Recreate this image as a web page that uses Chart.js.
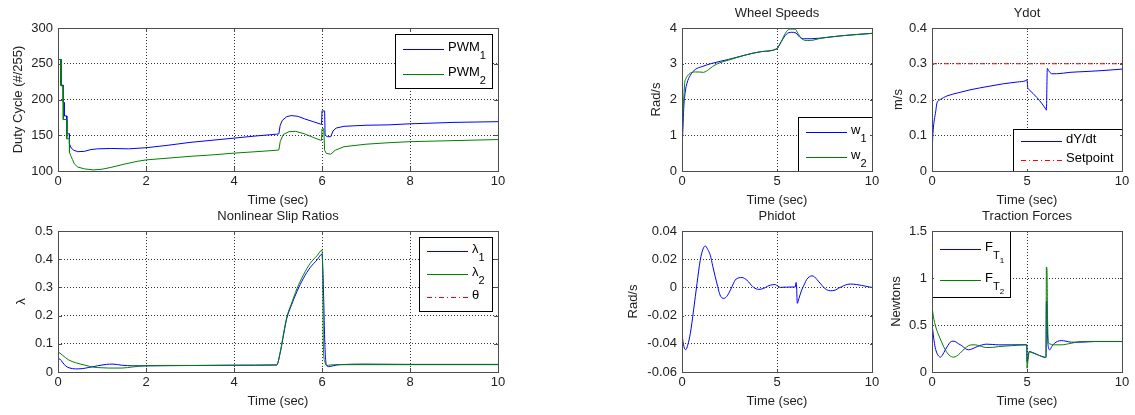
<!DOCTYPE html>
<html>
<head>
<meta charset="utf-8">
<script src="https://cdn.jsdelivr.net/npm/chart.js@4.4.1/dist/chart.umd.min.js"></script>
<style>
  html, body { margin: 0; padding: 0; background: #fff; }
  body { width: 1135px; height: 415px; position: relative; overflow: hidden; }
  canvas { position: absolute; }
</style>
</head>
<body>
<canvas id="pwm"></canvas>
<canvas id="slip"></canvas>
<canvas id="wheel"></canvas>
<canvas id="ydot"></canvas>
<canvas id="phidot"></canvas>
<canvas id="traction"></canvas>
<script>
// ---- data ----
var leftXTicks = [0, 2, 4, 6, 8, 10];
var rightXTicks = [0, 5, 10];

var pwmTicks = [100, 150, 200, 250, 300];
var pwmLabels = ['PWM_1', 'PWM_2'];
var pwmTime1 = [0, 0.07, 0.07, 0.12, 0.12, 0.14, 0.14, 0.2, 0.2, 0.26, 0.26, 0.3, 0.36, 0.45, 0.6, 0.75, 0.9, 1.2, 1.6, 2.0,
  2.5, 3.0, 3.5, 4.0, 4.5, 4.97, 5.02, 5.05, 5.1, 5.2, 5.3, 5.45, 5.6, 5.8, 5.97, 5.99, 6.0, 6.06, 6.07, 6.12,
  6.2, 6.25, 6.32, 6.5, 7.0, 7.5, 8.0, 8.5, 9.0, 9.5, 10];
var pwm1 = [256, 256, 220, 220, 196, 196, 177, 177, 152, 152, 138, 132, 129, 127, 127.5, 130, 131, 131.5, 131, 132.5,
  136, 140, 143, 146, 149, 151.5, 152, 164, 171, 176, 177.5, 176.5, 173, 169, 165.5, 165, 184, 184, 150, 148,
  148, 156, 160, 162.5, 164, 164.5, 166, 167, 168, 168.5, 169];
var pwmTime2 = [0, 0.07, 0.07, 0.12, 0.12, 0.2, 0.2, 0.26, 0.26, 0.3, 0.33, 0.37, 0.45, 0.6, 0.8, 1.0, 1.2, 1.5, 1.8, 2.0,
  2.5, 3.0, 3.5, 4.0, 4.5, 4.97, 5.02, 5.05, 5.12, 5.25, 5.4, 5.6, 5.8, 5.97, 5.99, 6.0, 6.04, 6.06, 6.1, 6.2,
  6.3, 6.5, 7.0, 7.5, 8.0, 9.0, 10];
var pwm2 = [256, 256, 219, 219, 172, 172, 145, 145, 126, 120, 116, 110, 105.5, 103, 101.5, 102.5, 105, 109.5, 113.5, 115.5,
  118, 120.5, 122.5, 125, 127, 129, 129.5, 141, 151, 155, 155.5, 152, 147, 143, 143, 159, 159, 129, 124.5, 123.5,
  129, 134, 137.5, 139.5, 141, 142.5, 144];

var slipTicks = [0, 0.1, 0.2, 0.3, 0.4, 0.5];
var slipLabels = ['\u03bb_1', '\u03bb_2', '\u03b8'];
var slipTime1 = [0, 0.05, 0.1, 0.17, 0.25, 0.4, 0.55, 0.7, 0.9, 1.1, 1.25, 1.45, 1.7, 2.0, 3.0, 4.0, 4.97, 5.05, 5.13, 5.2,
  5.3, 5.43, 5.58, 5.73, 5.89, 6.0, 6.02, 6.04, 6.06, 6.08, 6.1, 6.15, 6.25, 6.4, 7.0, 8.0, 10];
var slip1 = [0.047, 0.045, 0.035, 0.022, 0.015, 0.011, 0.012, 0.016, 0.022, 0.027, 0.028, 0.024, 0.022, 0.022, 0.023, 0.024, 0.025, 0.068, 0.135, 0.19,
  0.235, 0.285, 0.333, 0.37, 0.398, 0.418, 0.36, 0.25, 0.12, 0.05, 0.025, 0.019, 0.022, 0.026, 0.028, 0.027, 0.027];
var slipTime2 = [0, 0.1, 0.24, 0.4, 0.62, 0.81, 1.0, 1.15, 1.45, 1.7, 2.0, 3.0, 4.0, 4.97, 5.05, 5.13, 5.2, 5.3, 5.43, 5.58,
  5.73, 5.89, 6.0, 6.02, 6.03, 6.06, 6.1, 6.2, 6.4, 10];
var slip2 = [0.072, 0.06, 0.043, 0.033, 0.024, 0.017, 0.015, 0.014, 0.014, 0.018, 0.022, 0.023, 0.024, 0.025, 0.07, 0.14, 0.195, 0.24, 0.295, 0.345,
  0.385, 0.413, 0.432, 0.3, 0.1, 0.04, 0.023, 0.025, 0.026, 0.026];
var thetaTime = [];   // in the legend only, no visible line
var theta = [];

var wheelTicks = [0, 1, 2, 3, 4];
var wheelLabels = ['w_1', 'w_2'];
var wheelTime1 = [0, 0.05, 0.09, 0.17, 0.26, 0.44, 0.7, 1.05, 1.57, 2.44, 3.31, 4.18, 5.0, 5.1, 5.23, 5.5, 5.75, 6.0, 6.1, 6.2,
  6.45, 6.8, 7.67, 8.55, 10];
var w1 = [0.6, 1.2, 1.74, 2.21, 2.45, 2.68, 2.84, 2.92, 3.01, 3.12, 3.24, 3.34, 3.42, 3.5, 3.62, 3.83, 3.88, 3.86, 3.8, 3.74,
  3.7, 3.7, 3.74, 3.79, 3.85];
var wheelTime2 = [0, 0.05, 0.1, 0.14, 0.2, 0.26, 0.44, 0.7, 0.9, 1.13, 1.3, 1.48, 1.75, 2.0, 2.44, 3.31, 4.18, 5.0, 5.1, 5.23,
  5.5, 5.7, 5.95, 6.1, 6.3, 6.6, 6.9, 7.2, 7.67, 8.55, 10];
var w2 = [0.6, 1.6, 2.1, 2.45, 2.58, 2.64, 2.74, 2.77, 2.77, 2.76, 2.8, 2.87, 2.97, 3.03, 3.1, 3.24, 3.34, 3.42, 3.5, 3.63,
  3.9, 3.97, 3.97, 3.85, 3.7, 3.65, 3.66, 3.7, 3.74, 3.79, 3.85];

var ydotTicks = [0, 0.1, 0.2, 0.3, 0.4];
var ydotLabels = ['dY/dt', 'Setpoint'];
var ydotTime = [0, 0.05, 0.1, 0.18, 0.26, 0.35, 0.44, 0.6, 0.79, 1.4, 2.0, 3.0, 3.75, 4.5, 4.9, 5.0, 5.04, 5.1, 5.53, 6.0,
  6.02, 6.07, 6.15, 6.3, 6.56, 7.26, 8.0, 9.0, 10];
var ydot = [0.047, 0.105, 0.135, 0.161, 0.19, 0.197, 0.2, 0.205, 0.21, 0.219, 0.227, 0.237, 0.244, 0.249, 0.252, 0.255, 0.233, 0.228, 0.205, 0.172,
  0.17, 0.287, 0.28, 0.272, 0.272, 0.276, 0.278, 0.281, 0.285];
var setTime = [0, 10];
var setpoint = [0.3, 0.3];

var phiTicks = [-0.06, -0.04, -0.02, 0, 0.02, 0.04];
var phiTime = [0, 0.1, 0.2, 0.3, 0.44, 0.61, 0.79, 0.96, 1.1, 1.23, 1.35, 1.49, 1.62, 1.75, 1.88, 2.0, 2.2, 2.35, 2.46, 2.63,
  2.8, 3.0, 3.16, 3.35, 3.5, 3.65, 3.77, 3.9, 4.04, 4.3, 4.5, 4.65, 4.9, 5.05, 5.17, 5.5, 5.96, 6.0, 6.02, 6.07,
  6.15, 6.3, 6.45, 6.56, 6.7, 6.84, 6.97, 7.1, 7.3, 7.46, 7.6, 7.8, 8.07, 8.25, 8.4, 8.6, 8.85, 9.2, 9.45, 9.65,
  9.85, 10];
var phidot = [-0.0336, -0.042, -0.0442, -0.041, -0.0325, -0.016, 0.0028, 0.0193, 0.027, 0.0294, 0.027, 0.0228, 0.015, 0.0075, 0.0005, -0.0054, -0.0078, -0.0065, -0.0042, 0.0005,
  0.0052, 0.0068, 0.007, 0.0058, 0.004, 0.0015, 0, -0.001, -0.0014, -0.0007, 0.0008, 0.0016, 0.002, 0.0008, 0, 0.0002, 0.0003, 0.0035, 0.003, -0.0113,
  -0.008, -0.0019, 0.0025, 0.0056, 0.0075, 0.0082, 0.0075, 0.0056, 0.0025, 0, -0.0015, -0.0024, -0.0019, -0.0005, 0.0005, 0.0017, 0.0024, 0.002, 0.0014, 0.0009,
  0.0003, 0];

var ftTicks = [0, 0.5, 1, 1.5];
var ftLabels = ['F_{T_1}', 'F_{T_2}'];
var ftTime1 = [0, 0.05, 0.09, 0.17, 0.26, 0.35, 0.44, 0.55, 0.7, 0.83, 0.96, 1.1, 1.22, 1.4, 1.57, 1.75, 1.92, 2.1, 2.27, 2.5,
  2.88, 3.2, 3.5, 4.2, 4.97, 4.99, 5.0, 5.05, 5.12, 5.2, 5.38, 5.6, 5.9, 5.97, 6.0, 6.02, 6.05, 6.08, 6.12, 6.2,
  6.3, 6.45, 6.6, 6.8, 7.05, 7.33, 7.85, 8.55, 10];
var ft1 = [0.5, 0.43, 0.36, 0.26, 0.2, 0.17, 0.158, 0.18, 0.236, 0.28, 0.317, 0.328, 0.324, 0.3, 0.28, 0.25, 0.236, 0.245, 0.26, 0.28,
  0.296, 0.293, 0.289, 0.289, 0.29, 0.29, 0.11, 0.15, 0.218, 0.215, 0.2, 0.18, 0.158, 0.155, 0.155, 0.75, 0.7, 0.4, 0.27, 0.236,
  0.27, 0.306, 0.325, 0.334, 0.328, 0.317, 0.317, 0.324, 0.324];
var ftTime2 = [0, 0.05, 0.1, 0.17, 0.26, 0.35, 0.5, 0.7, 0.9, 1.13, 1.3, 1.48, 1.7, 1.92, 2.1, 2.27, 2.5, 2.88, 3.2, 3.5,
  4.2, 4.97, 4.99, 5.0, 5.03, 5.08, 5.12, 5.2, 5.38, 5.6, 5.97, 6.0, 6.02, 6.05, 6.08, 6.12, 6.2, 6.36, 6.8, 7.33,
  7.85, 8.55, 10];
var ft2 = [0.71, 0.62, 0.56, 0.5, 0.44, 0.394, 0.32, 0.236, 0.18, 0.158, 0.17, 0.2, 0.245, 0.28, 0.289, 0.289, 0.278, 0.26, 0.262, 0.27,
  0.28, 0.289, 0.289, 0.04, 0.08, 0.18, 0.218, 0.21, 0.197, 0.18, 0.155, 0.16, 1.116, 1.1, 0.6, 0.324, 0.3, 0.289, 0.289, 0.306,
  0.324, 0.324, 0.324];

// ---- look ----
var FONT = '"Liberation Sans", Arial, Helvetica, sans-serif';
var TXT = '#222';
var BLUE = 'rgb(0,0,255)', GREEN = 'rgb(0,128,0)', RED = 'rgb(255,0,0)';
var DASHDOT = [5, 3, 1, 3];
var PAD_L = 62, PAD_R = 18, PAD_T = 30, PAD_B = 44;

function pts(t, y) {
    return t.map(function (v, i) { return { x: v, y: y[i] }; });
}

function fmt(v) {
    return String(parseFloat(Number(v).toFixed(6)));
}

// split "F_{T_1}" into runs with a subscript level
function parseTex(s, lvl, out) {
    var buf = '', i = 0;
    while (i < s.length) {
        var c = s[i];
        if (c === '_') {
            if (buf) { out.push({ t: buf, l: lvl }); buf = ''; }
            i++;
            if (s[i] === '{') {
                var depth = 1, j = i + 1;
                while (depth > 0 && j < s.length) {
                    if (s[j] === '{') depth++;
                    else if (s[j] === '}') depth--;
                    j++;
                }
                parseTex(s.slice(i + 1, j - 1), lvl + 1, out);
                i = j;
            } else {
                out.push({ t: s[i], l: lvl + 1 });
                i++;
            }
        } else {
            buf += c;
            i++;
        }
    }
    if (buf) out.push({ t: buf, l: lvl });
    return out;
}

var SUB_SIZE = [13, 11, 8];
var SUB_DY = [0, 8.5, 13];

// sample line drawn as filled 1px segments, following the dash pattern
function sampleLine(ctx, x0, x1, y, color, dash) {
    ctx.fillStyle = color;
    if (!dash || !dash.length) {
        ctx.fillRect(x0, y, x1 - x0, 1);
        return;
    }
    var x = x0, k = 0, on = true;
    while (x < x1) {
        var len = Math.min(dash[k % dash.length], x1 - x);
        if (on) ctx.fillRect(x, y, len, 1);
        x += dash[k % dash.length];
        k++;
        on = !on;
    }
}

// matlab-style box legend inside the axes (entries are kept on the chart object)
Chart.register({
    id: 'matLegend',
    afterDatasetsDraw: function (chart) {
        var box = chart.$legendBox;
        if (!box) return;
        var ca = chart.chartArea, ctx = chart.ctx;
        var x0 = (box.corner.indexOf('e') >= 0) ? ca.right - box.gap - box.w : ca.left + box.gap;
        var y0 = (box.corner.indexOf('s') >= 0) ? ca.bottom - box.gap - box.h : ca.top + box.gap;
        x0 = Math.round(x0); y0 = Math.round(y0);
        var items = chart.$legendItems;
        ctx.save();
        ctx.setLineDash([]);
        ctx.fillStyle = '#fff';
        ctx.fillRect(x0, y0, box.w, box.h);
        ctx.lineWidth = 1;
        ctx.strokeStyle = '#000';
        ctx.strokeRect(x0 + 0.5, y0 + 0.5, box.w, box.h);
        var rowH = (box.h - 4) / items.length;
        items.forEach(function (it, i) {
            var cy = Math.round(y0 + 2 + rowH * (i + 0.5));
            sampleLine(ctx, x0 + 8, x0 + 49, cy, it.color, it.dash);
            var tx = x0 + 53;
            ctx.fillStyle = '#000';
            ctx.textBaseline = 'middle';
            ctx.textAlign = 'left';
            parseTex(it.label, 0, []).forEach(function (r) {
                var lv = Math.min(r.l, 2);
                ctx.font = SUB_SIZE[lv] + 'px ' + FONT;
                ctx.fillText(r.t, tx, cy - 1.5 + SUB_DY[lv]);
                tx += ctx.measureText(r.t).width;
            });
        });
        ctx.restore();
    }
});

// axes box with inward tick marks
Chart.register({
    id: 'matFrame',
    afterDatasetsDraw: function (chart) {
        var ca = chart.chartArea, ctx = chart.ctx;
        var xs = chart.scales.x, ys = chart.scales.y, tl = chart.$tickLen || 2;
        ctx.save();
        ctx.setLineDash([]);
        ctx.strokeStyle = '#4d4d4d';
        ctx.lineWidth = 1;
        ctx.beginPath();
        xs.ticks.forEach(function (t) {
            var px = Math.round(xs.getPixelForValue(t.value)) + 0.5;
            ctx.moveTo(px, ca.bottom); ctx.lineTo(px, ca.bottom - tl);
            ctx.moveTo(px, ca.top); ctx.lineTo(px, ca.top + tl);
        });
        ys.ticks.forEach(function (t) {
            var py = Math.round(ys.getPixelForValue(t.value)) + 0.5;
            ctx.moveTo(ca.left, py); ctx.lineTo(ca.left + tl, py);
            ctx.moveTo(ca.right, py); ctx.lineTo(ca.right - tl, py);
        });
        ctx.stroke();
        ctx.strokeRect(ca.left + 0.5, ca.top + 0.5, ca.right - ca.left, ca.bottom - ca.top);
        ctx.restore();
    }
});

function axis(ticks, min, max, title, titlePad) {
    return {
        type: 'linear',
        min: min,
        max: max,
        afterBuildTicks: function (s) { s.ticks = ticks.map(function (v) { return { value: v }; }); },
        grid: { color: '#333', lineWidth: 1, drawTicks: false },
        border: { display: false, dash: [1, 2] },
        ticks: { color: TXT, font: { family: FONT, size: 13 }, padding: 5, autoSkip: false, maxRotation: 0, callback: fmt },
        title: { display: true, text: title, color: TXT, font: { family: FONT, size: 13 }, padding: titlePad }
    };
}

function panel(id, box, cfg) {
    var canvas = document.getElementById(id);
    canvas.width = box.R - box.L + PAD_L + PAD_R;
    canvas.height = box.B - box.T + PAD_T + PAD_B;
    canvas.style.left = (box.L - PAD_L) + 'px';
    canvas.style.top = (box.T - PAD_T) + 'px';

    var xAx = axis(cfg.xTicks, 0, 10, 'Time (sec)', { top: 0, bottom: 7.2 });
    xAx.ticks.padding = 3;
    xAx.afterFit = function (s) { s.height = PAD_B; s.paddingLeft = 0; s.paddingRight = 0; };
    var yAx = axis(cfg.yTicks, cfg.yTicks[0], cfg.yTicks[cfg.yTicks.length - 1], cfg.yTitle,
        { top: PAD_L - 7.8 + cfg.yTitleX, bottom: 0 });
    yAx.afterFit = function (s) { s.width = PAD_L; s.paddingTop = 0; s.paddingBottom = 0; };

    var datasets = cfg.series.map(function (s, i) {
        return {
            label: s.label,
            data: pts(s.t, s.y),
            borderColor: s.color,
            borderWidth: 1,
            borderDash: s.dash || [],
            pointRadius: 0,
            fill: false,
            cubicInterpolationMode: s.smooth ? 'monotone' : 'default',
            tension: 0,
            order: -i
        };
    });

    var chart = new Chart(canvas.getContext('2d'), {
        type: 'line',
        data: { datasets: datasets },
        options: {
            responsive: false,
            animation: false,
            devicePixelRatio: 1,
            layout: { autoPadding: false, padding: { left: 0, right: PAD_R, top: cfg.title ? 0 : PAD_T, bottom: 0 } },
            plugins: {
                legend: { display: false },
                tooltip: { enabled: false },
                title: cfg.title ? {
                    display: true, text: cfg.title, color: TXT, fullSize: false,
                    font: { family: FONT, size: 13, weight: 'normal' },
                    padding: { top: 7.9, bottom: 6.5 }
                } : { display: false }
            },
            scales: { x: xAx, y: yAx }
        }
    });
    chart.$tickLen = cfg.tick;
    chart.$legendBox = cfg.legend || null;
    chart.$legendItems = cfg.series.map(function (s) {
        return { label: s.label, color: s.color, dash: s.dash };
    });
    chart.draw();
    return chart;
}

panel('pwm', { L: 58, T: 28, R: 498, B: 171 }, {
    xTicks: leftXTicks, yTicks: pwmTicks, yTitle: 'Duty Cycle (#/255)', yTitleX: -40, tick: 4,
    legend: { corner: 'ne', gap: 6, w: 97, h: 54 },
    series: [
        { label: pwmLabels[0], t: pwmTime1, y: pwm1, color: BLUE },
        { label: pwmLabels[1], t: pwmTime2, y: pwm2, color: GREEN }
    ]
});

panel('slip', { L: 58, T: 231, R: 498, B: 372 }, {
    title: 'Nonlinear Slip Ratios',
    xTicks: leftXTicks, yTicks: slipTicks, yTitle: '\u03bb', yTitleX: -37, tick: 4,
    legend: { corner: 'ne', gap: 6, w: 73, h: 74 },
    series: [
        { label: slipLabels[0], t: slipTime1, y: slip1, color: BLUE, smooth: true },
        { label: slipLabels[1], t: slipTime2, y: slip2, color: GREEN, smooth: true },
        { label: slipLabels[2], t: thetaTime, y: theta, color: RED, dash: DASHDOT }
    ]
});

panel('wheel', { L: 682, T: 28, R: 872, B: 171 }, {
    title: 'Wheel Speeds',
    xTicks: rightXTicks, yTicks: wheelTicks, yTitle: 'Rad/s', yTitleX: -25.5, tick: 2,
    legend: { corner: 'se', gap: 0, w: 74, h: 54 },
    series: [
        { label: wheelLabels[0], t: wheelTime1, y: w1, color: BLUE, smooth: true },
        { label: wheelLabels[1], t: wheelTime2, y: w2, color: GREEN, smooth: true }
    ]
});

panel('ydot', { L: 932, T: 28, R: 1122, B: 171 }, {
    title: 'Ydot',
    xTicks: rightXTicks, yTicks: ydotTicks, yTitle: 'm/s', yTitleX: -33.5, tick: 2,
    legend: { corner: 'se', gap: 0, w: 109, h: 42 },
    series: [
        { label: ydotLabels[0], t: ydotTime, y: ydot, color: BLUE, smooth: true },
        { label: ydotLabels[1], t: setTime, y: setpoint, color: RED, dash: DASHDOT }
    ]
});

panel('phidot', { L: 682, T: 231, R: 872, B: 372 }, {
    title: 'Phidot',
    xTicks: rightXTicks, yTicks: phiTicks, yTitle: 'Rad/s', yTitleX: -48.3, tick: 2,
    series: [
        { label: 'Phidot', t: phiTime, y: phidot, color: BLUE, smooth: true }
    ]
});

panel('traction', { L: 932, T: 231, R: 1122, B: 372 }, {
    title: 'Traction Forces',
    xTicks: rightXTicks, yTicks: ftTicks, yTitle: 'Newtons', yTitleX: -35.8, tick: 2,
    legend: { corner: 'nw', gap: 0, w: 78, h: 66 },
    series: [
        { label: ftLabels[0], t: ftTime1, y: ft1, color: BLUE, smooth: true },
        { label: ftLabels[1], t: ftTime2, y: ft2, color: GREEN, smooth: true }
    ]
});
</script>
</body>
</html>
